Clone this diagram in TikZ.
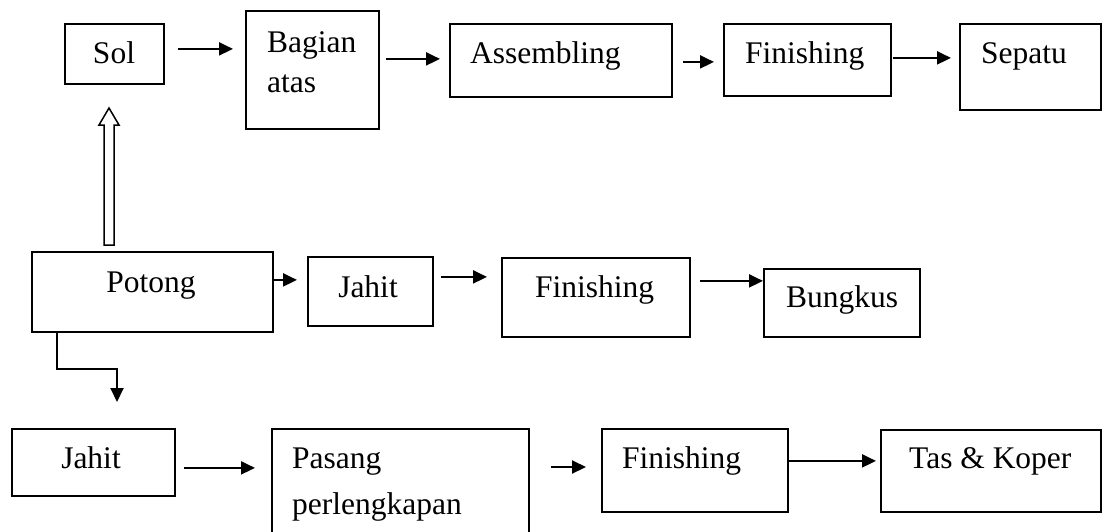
\documentclass[tikz,border=0pt]{standalone}
\usepackage{fontspec}
\setmainfont{Liberation Serif}
\usepackage{tikz}
\usetikzlibrary{calc}
\usetikzlibrary{arrows.meta}

\tikzset{
	box/.style={draw, line width=1.8pt, inner sep=0pt, anchor=north west},
	lbl/.style={inner sep=0pt, font=\fontsize{31.5pt}{40pt}\selectfont},
	arr/.style={line width=2pt, -{Triangle[length=14pt,width=13pt]}},
	hollow/.style={line width=1.5pt}
}

\begin{document}
\begin{tikzpicture}[x=1pt, y=-1pt]
				\useasboundingbox (0,0) rectangle (1102,531);
				
				% shoes
				\node[box, minimum width=99pt, minimum height=60pt] (sol) at (64,23) {};
				\node[box, minimum width=133pt, minimum height=118pt] (bagian) at (245,10) {};
				\node[box, minimum width=222pt, minimum height=73pt] (assembling) at (449,23) {};
				\node[box, minimum width=167pt, minimum height=72pt] (finA) at (723,23) {};
				\node[box, minimum width=141pt, minimum height=86pt] (sepatu) at (959,23) {};
				
				\node[lbl, anchor=base] (sol-t) at (114,63) {Sol};
				\node[lbl, anchor=base west] (bagian-t) at (267,52) {Bagian};
				\node[lbl, anchor=base west] (atas-t) at (267,92) {atas};
				\node[lbl, anchor=base west] (assembling-t) at (470,63) {Assembling};
				\node[lbl, anchor=base west] (finA-t) at (745,63) {Finishing};
				\node[lbl, anchor=base west] (sepatu-t) at (981,63) {Sepatu};
				
				% cutting
				\node[box, minimum width=241pt, minimum height=80pt] (potong) at (31,251) {};
				\node[box, minimum width=125pt, minimum height=69pt] (jahitM) at (307,256) {};
				\node[box, minimum width=188pt, minimum height=79pt] (finM) at (501,257) {};
				\node[box, minimum width=156pt, minimum height=68pt] (bungkus) at (763,268) {};
				
				\node[lbl, anchor=base] (potong-t) at (151,292) {Potong};
				\node[lbl, anchor=base] (jahitM-t) at (368,297) {Jahit};
				\node[lbl, anchor=base west] (finM-t) at (535,297) {Finishing};
				\node[lbl, anchor=base west] (bungkus-t) at (786,307) {Bungkus};
				
				% bags
				\node[box, minimum width=163pt, minimum height=67pt] (jahitB) at (11,428) {};
				\node[box, minimum width=257pt, minimum height=105pt] (pasang) at (271,428) {};
				\node[box, minimum width=186pt, minimum height=83pt] (finB) at (601,428) {};
				\node[box, minimum width=220pt, minimum height=82pt] (tas) at (880,429) {};
				
				\node[lbl, anchor=base] (jahitB-t) at (91,468) {Jahit};
				\node[lbl, anchor=base west] (pasang-t) at (292,468) {Pasang};
				\node[lbl, anchor=base west] (perlengkapan-t) at (292,514) {perlengkapan};
				\node[lbl, anchor=base west] (finB-t) at (622,468) {Finishing};
				\node[lbl, anchor=base west] (tas-t) at (909,468) {Tas \& Koper};
				
				\draw[arr] ($(sol.east)+(13,-5)$) -- ($(sol.east -| bagian.west)+(-12,-5)$);
				\draw[arr] ($(bagian.east)+(6,-11)$) -- ($(bagian.east -| assembling.west)+(-9,-11)$);
				\draw[arr] ($(assembling.east)+(10,1.5)$) -- ($(assembling.east -| finA.west)+(-9,1.5)$);
				\draw[arr] ($(finA.east)+(1,-2)$) -- ($(finA.east -| sepatu.west)+(-8,-2)$);
				
				\draw[arr] ($(potong.east)+(0,-12)$) -- ($(potong.east -| jahitM.west)+(-10,-12)$);
				\draw[arr] ($(jahitM.east)+(7,-14.5)$) -- ($(jahitM.east -| finM.west)+(-14,-14.5)$);
				\draw[arr] ($(finM.east)+(9,-16.5)$) -- ($(finM.east -| bungkus.west)+(0,-16.5)$);
				
				\draw[arr] ($(jahitB.east)+(8,5.5)$) -- ($(jahitB.east -| pasang.west)+(-16,5.5)$);
				\draw[arr] ($(pasang.north east)+(21,39)$) -- ($(pasang.north east -| finB.west)+(-15,39)$);
				\draw[arr] ($(finB.east)+(0,-9.5)$) -- ($(finB.east -| tas.west)+(-4,-9.5)$);
				
				% hollow arrow up to the sole
				\draw[hollow] ($(potong.north west)+(73,-6)$) -- ++(0,-120) -- ++(-5,0) -- ++(10,-17)
					-- ++(10,17) -- ++(-5,0) -- ++(0,120) -- cycle;
				
				\coordinate (drop) at (117,402);
				\draw[arr] ($(potong.south west)+(26,0)$) -- ++(0,36) -| (drop);
			\end{tikzpicture}
\end{document}
